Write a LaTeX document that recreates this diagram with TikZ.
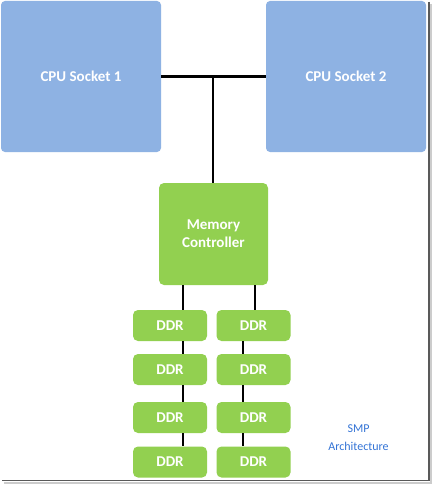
\documentclass[tikz,border=0pt]{standalone}
\usepackage{fontspec}
\setmainfont{Carlito}
\usetikzlibrary{positioning}
\definecolor{cpublue}{RGB}{142,178,227}
\definecolor{memgreen}{RGB}{146,208,80}
\definecolor{labelblue}{RGB}{52,116,214}
\begin{document}
\begin{tikzpicture}[x=1pt, y=-1pt,
  cpubox/.style={fill=cpublue, rounded corners=4pt, minimum width=160pt, minimum height=151pt,
    text=white, font=\bfseries\fontsize{15}{18}\selectfont},
  mcbox/.style={fill=memgreen, rounded corners=5pt, minimum width=109pt, minimum height=102pt,
    text=white, align=center, font=\bfseries\fontsize{15}{18}\selectfont},
  ddrbox/.style={fill=memgreen, rounded corners=5pt, minimum width=74pt, minimum height=31pt,
    text=white, font=\bfseries\fontsize{15}{18}\selectfont},
  wire/.style={line width=2.6pt, black}]
\useasboundingbox (0,0) rectangle (432,484);
\fill[white] (0,0) rectangle (432,484);
% frame shadow
\draw[gray!40, line width=2pt] (431,4) -- (431,483) -- (4,483);
\draw[black!65, line width=1.2pt] (429,2) -- (429,480.5) -- (2,480.5);
% sockets and controller
\node[cpubox] (cpu1) at (81,76.5) {CPU Socket 1};
\node[cpubox] (cpu2) at (346,76.5) {CPU Socket 2};
\node[mcbox] (mc) at (213.5,234) {Memory\\Controller};
% DDR banks
\node[ddrbox] (l1) at (170,325.5) {DDR};
\node[ddrbox] (l2) at (170,369.5) {DDR};
\node[ddrbox] (l3) at (170,417.5) {DDR};
\node[ddrbox] (l4) at (170,462) {DDR};
\node[ddrbox] (r1) at (253.5,325.5) {DDR};
\node[ddrbox] (r2) at (253.5,369.5) {DDR};
\node[ddrbox] (r3) at (253.5,417.5) {DDR};
\node[ddrbox] (r4) at (253.5,462) {DDR};
% bus
\coordinate (bus) at (213,77);
\draw[wire] (cpu1.east) -- (cpu2.west);
\draw[wire] (bus) -- (bus |- mc.north);
\draw[wire] ([xshift=-30.5pt]mc.south) -- ([xshift=13pt]l1.north);
\draw[wire] ([xshift=41.5pt]mc.south) -- ([xshift=1.5pt]r1.north);
\foreach \a/\b in {l1/l2,l2/l3,l3/l4}
  \draw[wire] ([xshift=13pt]\a.south) -- ([xshift=13pt]\b.north);
\foreach \a/\b in {r1/r2,r2/r3,r3/r4}
  \draw[wire] ([xshift=-10.5pt]\a.south) -- ([xshift=-10.5pt]\b.north);
\node[text=labelblue, align=center, font=\fontsize{12}{18}\selectfont] (smp) at (358.5,438) {SMP\\Architecture};
\end{tikzpicture}
\end{document}
